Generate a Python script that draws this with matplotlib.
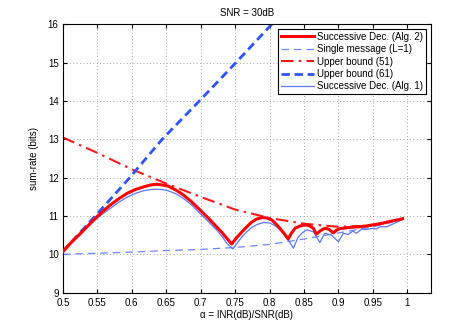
import matplotlib
matplotlib.use('Agg')
import matplotlib.pyplot as plt

plt.rcParams['font.family'] = ['Liberation Sans', 'DejaVu Sans']
plt.rcParams['font.size'] = 7

# Successive Dec. (Alg. 2)
alg2_x = [0.5, 0.511, 0.523, 0.535, 0.547, 0.558, 0.569, 0.581, 0.593, 0.605, 0.617, 0.627,
          0.636, 0.645, 0.653, 0.664, 0.675, 0.687, 0.699, 0.711, 0.723, 0.731, 0.738, 0.745,
          0.751, 0.76, 0.767, 0.774, 0.781, 0.789, 0.796, 0.803, 0.809, 0.815, 0.821, 0.827,
          0.832, 0.837, 0.844, 0.8515, 0.8575, 0.8636, 0.868, 0.874, 0.88, 0.886, 0.8926,
          0.897, 0.902, 0.91, 0.92, 0.93, 0.94, 0.95, 0.96, 0.97, 0.98, 0.993]
alg2_y = [10.07, 10.29, 10.5, 10.72, 10.94, 11.12, 11.29, 11.45, 11.59, 11.69, 11.76, 11.81,
          11.83, 11.81, 11.78, 11.68, 11.55, 11.37, 11.16, 10.95, 10.72, 10.57, 10.42, 10.27,
          10.41, 10.59, 10.72, 10.84, 10.92, 10.96, 10.95, 10.9, 10.8, 10.68, 10.55, 10.4,
          10.56, 10.68, 10.74, 10.77, 10.75, 10.68, 10.53, 10.62, 10.68, 10.66, 10.56,
          10.63, 10.67, 10.69, 10.71, 10.72, 10.74, 10.77, 10.8, 10.84, 10.88, 10.93]

# Single message (L=1)
single_x = [0.5, 0.55, 0.6, 0.65, 0.7, 0.75, 0.8, 0.85, 0.9, 0.95, 0.993]
single_y = [10.0, 10.03, 10.06, 10.1, 10.13, 10.18, 10.26, 10.4, 10.56, 10.72, 10.9]

# Upper bound (51)
ub51_x = [0.5, 0.55, 0.6, 0.65, 0.7, 0.75, 0.8, 0.85, 0.9, 0.95, 0.993]
ub51_y = [13.05, 12.65, 12.22, 11.85, 11.5, 11.17, 10.95, 10.8, 10.72, 10.75, 10.93]

# Upper bound (61)
ub61_x = [0.5, 0.547, 0.597, 0.644, 0.698, 0.751, 0.803, 0.81]
ub61_y = [10.08, 11.0, 12.0, 13.0, 14.0, 15.0, 16.0, 16.14]

# Successive Dec. (Alg. 1)
alg1_x = [0.5, 0.511, 0.523, 0.535, 0.547, 0.558, 0.569, 0.581, 0.593, 0.605, 0.617, 0.627,
          0.636, 0.645, 0.653, 0.664, 0.675, 0.687, 0.699, 0.711, 0.723, 0.731, 0.738, 0.7466,
          0.752, 0.76, 0.767, 0.774, 0.782, 0.791, 0.8, 0.808, 0.815, 0.8225, 0.829, 0.8345,
          0.8418, 0.848, 0.854, 0.8636, 0.873, 0.88, 0.89, 0.9, 0.907, 0.914, 0.921, 0.926,
          0.934, 0.94, 0.95, 0.955, 0.96, 0.97, 0.98, 0.994]
alg1_y = [10.05, 10.27, 10.48, 10.69, 10.9, 11.06, 11.2, 11.36, 11.49, 11.59, 11.66, 11.69,
          11.7, 11.69, 11.66, 11.58, 11.46, 11.29, 11.07, 10.86, 10.64, 10.47, 10.29, 10.14,
          10.27, 10.46, 10.59, 10.7, 10.78, 10.83, 10.82, 10.75, 10.65, 10.5, 10.33, 10.16,
          10.46, 10.57, 10.64, 10.59, 10.31, 10.55, 10.5, 10.33, 10.55, 10.52, 10.61, 10.55,
          10.66, 10.65, 10.68, 10.66, 10.72, 10.72, 10.8, 10.92]

fig = plt.figure(figsize=(4.76, 3.30), dpi=100)
ax = fig.add_axes([0.132, 0.113, 0.773, 0.813])

ax.plot(alg2_x, alg2_y, color='#ff0000', lw=2.2, label='Successive Dec. (Alg. 2)', zorder=4)
ax.plot(single_x, single_y, color='#6f86ff', lw=0.9, ls=(0, (6, 4)), label='Single message (L=1)')
ax.plot(ub51_x, ub51_y, color='#ff1a1a', lw=1.5, ls=(0, (6, 2.5, 1.2, 2.5)), label='Upper bound (51)')
ax.plot(ub61_x, ub61_y, color='#2f52ff', lw=2.0, ls=(0, (3, 1.7)), label='Upper bound (61)')
ax.plot(alg1_x, alg1_y, color='#5a78ff', lw=0.9, label='Successive Dec. (Alg. 1)', zorder=3)

ax.set_xlim(0.5, 1.034)
ax.set_ylim(9, 16)
ax.set_xticks([0.5, 0.55, 0.6, 0.65, 0.7, 0.75, 0.8, 0.85, 0.9, 0.95, 1])
ax.set_xticklabels(['0.5', '0.55', '0.6', '0.65', '0.7', '0.75', '0.8', '0.85', '0.9', '0.95', '1'])
ax.set_yticks(range(9, 17))
ax.tick_params(direction='in', top=True, right=True, length=3)
ax.tick_params(axis='x', pad=4)
ax.tick_params(axis='y', pad=3)
ax.grid(True, ls=(0, (1, 3)), color='#888888', lw=0.6)
for s in ax.spines.values():
    s.set_linewidth(0.8)

ax.set_title('SNR = 30dB', fontsize=7, pad=6)
ax.set_xlabel('α = INR(dB)/SNR(dB)', labelpad=1)
ax.set_ylabel('sum-rate (bits)', labelpad=6)

leg = ax.legend(loc='upper right', fontsize=7, fancybox=False, framealpha=1,
                edgecolor='black', borderaxespad=0.45, handlelength=3.4,
                handletextpad=0.4, labelspacing=0.25, borderpad=0.3)
leg.get_frame().set_linewidth(0.8)

fig.savefig('out.png', dpi=100)
